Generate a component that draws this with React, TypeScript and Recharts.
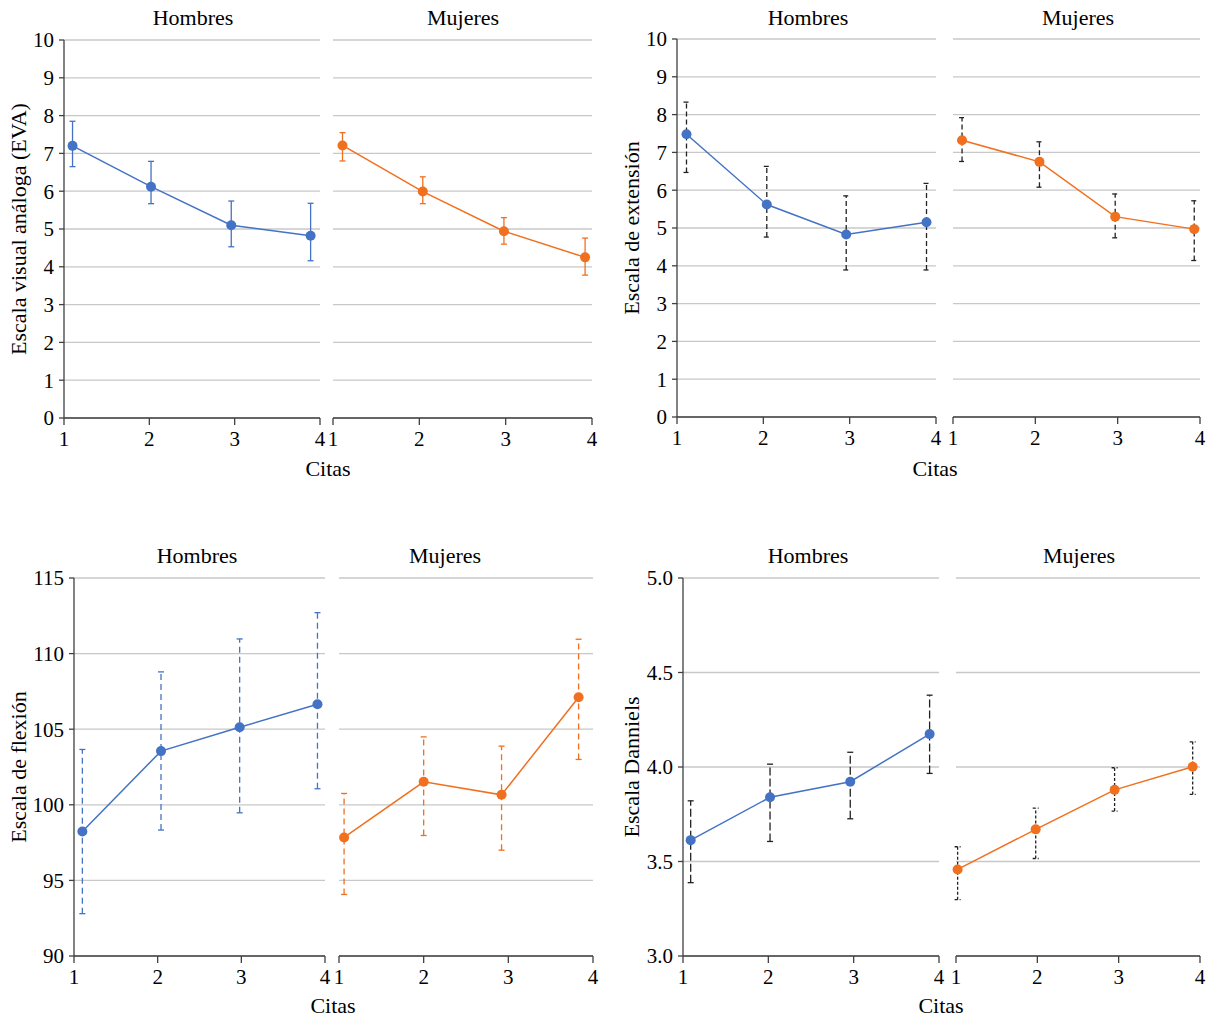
import { CartesianGrid, ErrorBar, Line, LineChart, XAxis, YAxis } from "recharts";

const FONT = '"Liberation Serif", "Times New Roman", serif';
const BLUE = "#4472C4";
const ORANGE = "#F0701F";
const BLACK = "#222222";
const GRID = "#C8C8C8";
const AXIS = "#404040";

const citaTicks = [1, 2, 3, 4];

// Escala visual análoga (EVA)
const evaTicks = [0, 1, 2, 3, 4, 5, 6, 7, 8, 9, 10];
const evaHombresX = [1.1, 2.02, 2.96, 3.89];
const evaHombres = [7.2, 6.12, 5.1, 4.82];
const evaHombresHi = [7.85, 6.79, 5.74, 5.68];
const evaHombresLo = [6.65, 5.67, 4.53, 4.16];
const evaMujeresX = [1.11, 2.04, 2.98, 3.92];
const evaMujeres = [7.21, 5.99, 4.94, 4.25];
const evaMujeresHi = [7.55, 6.38, 5.3, 4.76];
const evaMujeresLo = [6.8, 5.67, 4.6, 3.78];

// Escala de extensión
const extTicks = [0, 1, 2, 3, 4, 5, 6, 7, 8, 9, 10];
const extHombresX = [1.11, 2.04, 2.96, 3.89];
const extHombres = [7.48, 5.62, 4.83, 5.15];
const extHombresHi = [8.33, 6.63, 5.85, 6.18];
const extHombresLo = [6.47, 4.76, 3.89, 3.89];
const extMujeresX = [1.11, 2.05, 2.97, 3.93];
const extMujeres = [7.32, 6.75, 5.3, 4.97];
const extMujeresHi = [7.92, 7.28, 5.9, 5.72];
const extMujeresLo = [6.76, 6.08, 4.74, 4.14];

// Escala de flexión
const flexTicks = [90, 95, 100, 105, 110, 115];
const flexHombresX = [1.1, 2.04, 2.98, 3.91];
const flexHombres = [98.24, 103.55, 105.13, 106.65];
const flexHombresHi = [103.66, 108.79, 110.97, 112.71];
const flexHombresLo = [92.8, 98.33, 99.47, 101.06];
const flexMujeresX = [1.06, 2.0, 2.92, 3.83];
const flexMujeres = [97.84, 101.52, 100.66, 107.11];
const flexMujeresHi = [100.75, 104.49, 103.88, 110.95];
const flexMujeresLo = [94.07, 97.97, 97.0, 103.0];

// Escala Danniels
const danTicks = [3.0, 3.5, 4.0, 4.5, 5.0];
const danHombresX = [1.09, 2.02, 2.96, 3.89];
const danHombres = [3.613, 3.84, 3.922, 4.174];
const danHombresHi = [3.821, 4.015, 4.078, 4.38];
const danHombresLo = [3.388, 3.606, 3.726, 3.966];
const danMujeresX = [1.02, 1.98, 2.95, 3.91];
const danMujeres = [3.458, 3.67, 3.879, 4.001];
const danMujeresHi = [3.578, 3.782, 3.996, 4.133];
const danMujeresLo = [3.298, 3.516, 3.767, 3.855];

type Row = { x: number; y: number; err: [number, number] };

function rows(xs: number[], ys: number[], hi: number[], lo: number[]): Row[] {
  return xs.map((x, i) => ({ x, y: ys[i], err: [ys[i] - lo[i], hi[i] - ys[i]] }));
}

type ErrStyle = { color: string; dash?: string };

type FacetProps = {
  left: number;
  top: number;
  plotW: number;
  plotH: number;
  showY: boolean;
  domain: [number, number];
  ticks: number[];
  fmt?: (v: number) => string;
  data: Row[];
  color: string;
  err: ErrStyle;
};

const Y_W = 60;
const PAD = 14;
const X_H = 44;
const TICK_FS = 21;
const tickTextStyle = { fontFamily: FONT, fontSize: TICK_FS, fill: "#000" };

function XTick(props: any) {
  const { x, y, payload } = props;
  return (
    <text x={x} y={y} dy="0.72em" textAnchor="middle" style={tickTextStyle}>
      {payload.value}
    </text>
  );
}

function makeYTick(fmt?: (v: number) => string) {
  return function YTick(props: any) {
    const { x, y, payload } = props;
    return (
      <text x={x} y={y} dy="0.35em" textAnchor="end" style={tickTextStyle}>
        {fmt ? fmt(payload.value) : payload.value}
      </text>
    );
  };
}

function Facet({ left, top, plotW, plotH, showY, domain, ticks, fmt, data, color, err }: FacetProps) {
  const padL = showY ? Y_W : PAD;
  return (
    <div style={{ position: "absolute", left: left - padL, top: top - PAD }}>
      <LineChart
        width={padL + plotW + PAD}
        height={PAD + plotH + X_H}
        data={data}
        margin={{ top: PAD, right: PAD, bottom: 0, left: showY ? 0 : PAD }}
      >
        <CartesianGrid vertical={false} stroke={GRID} strokeWidth={1.3} />
        <XAxis
          dataKey="x"
          type="number"
          domain={[1, 4]}
          ticks={citaTicks}
          interval={0}
          height={X_H}
          tickSize={7}
          tickMargin={6}
          axisLine={{ stroke: AXIS, strokeWidth: 1.3 }}
          tickLine={{ stroke: AXIS, strokeWidth: 1.3 }}
          tick={<XTick />}
        />
        <YAxis
          type="number"
          domain={domain}
          ticks={ticks}
          interval={0}
          hide={!showY}
          width={Y_W}
          tickSize={5}
          tickMargin={5}
          axisLine={{ stroke: AXIS, strokeWidth: 1.3 }}
          tickLine={{ stroke: AXIS, strokeWidth: 1.3 }}
          tick={makeYTick(fmt)}
        />
        <Line
          dataKey="y"
          stroke={color}
          strokeWidth={1.5}
          dot={{ r: 5, fill: color, stroke: color, strokeWidth: 0 }}
          activeDot={false}
          isAnimationActive={false}
        >
          <ErrorBar
            dataKey="err"
            direction="y"
            width={3}
            stroke={err.color}
            strokeWidth={1.3}
            strokeDasharray={err.dash}
            isAnimationActive={false}
          />
        </Line>
      </LineChart>
    </div>
  );
}

type Panel = {
  yLabel: string;
  yLabelX: number;
  yLabelY: number;
  top: number;
  domain: [number, number];
  ticks: number[];
  fmt?: (v: number) => string;
  hLeft: number;
  hW: number;
  mLeft: number;
  mW: number;
  hTitleX: number;
  mTitleX: number;
  titleY: number;
  citasX: number;
  citasY: number;
  hombres: Row[];
  mujeres: Row[];
  hErr: ErrStyle;
  mErr: ErrStyle;
};

const PLOT_H = 378;

const panels: Panel[] = [
  {
    yLabel: "Escala visual análoga (EVA)",
    yLabelX: 19,
    yLabelY: 229,
    top: 40,
    domain: [0, 10],
    ticks: evaTicks,
    hLeft: 64,
    hW: 256,
    mLeft: 333,
    mW: 259,
    hTitleX: 193,
    mTitleX: 463,
    titleY: 18,
    citasX: 328,
    citasY: 469,
    hombres: rows(evaHombresX, evaHombres, evaHombresHi, evaHombresLo),
    mujeres: rows(evaMujeresX, evaMujeres, evaMujeresHi, evaMujeresLo),
    hErr: { color: BLUE },
    mErr: { color: ORANGE },
  },
  {
    yLabel: "Escala de extensión",
    yLabelX: 632,
    yLabelY: 228,
    top: 39,
    domain: [0, 10],
    ticks: extTicks,
    hLeft: 677,
    hW: 259,
    mLeft: 953,
    mW: 247,
    hTitleX: 808,
    mTitleX: 1078,
    titleY: 18,
    citasX: 935,
    citasY: 469,
    hombres: rows(extHombresX, extHombres, extHombresHi, extHombresLo),
    mujeres: rows(extMujeresX, extMujeres, extMujeresHi, extMujeresLo),
    hErr: { color: BLACK, dash: "5 3" },
    mErr: { color: BLACK, dash: "5 3" },
  },
  {
    yLabel: "Escala de flexión",
    yLabelX: 19,
    yLabelY: 767,
    top: 578,
    domain: [90, 115],
    ticks: flexTicks,
    hLeft: 74,
    hW: 251,
    mLeft: 339,
    mW: 254,
    hTitleX: 197,
    mTitleX: 445,
    titleY: 556,
    citasX: 333,
    citasY: 1006,
    hombres: rows(flexHombresX, flexHombres, flexHombresHi, flexHombresLo),
    mujeres: rows(flexMujeresX, flexMujeres, flexMujeresHi, flexMujeresLo),
    hErr: { color: BLUE, dash: "6 4" },
    mErr: { color: ORANGE, dash: "6 4" },
  },
  {
    yLabel: "Escala Danniels",
    yLabelX: 632,
    yLabelY: 767,
    top: 578,
    domain: [3, 5],
    ticks: danTicks,
    fmt: (v: number) => v.toFixed(1),
    hLeft: 683,
    hW: 256,
    mLeft: 956,
    mW: 244,
    hTitleX: 808,
    mTitleX: 1079,
    titleY: 556,
    citasX: 941,
    citasY: 1006,
    hombres: rows(danHombresX, danHombres, danHombresHi, danHombresLo),
    mujeres: rows(danMujeresX, danMujeres, danMujeresHi, danMujeresLo),
    hErr: { color: BLACK, dash: "8 3" },
    mErr: { color: BLACK, dash: "3 2" },
  },
];

const textStyle = {
  position: "absolute" as const,
  fontFamily: FONT,
  fontSize: 22,
  color: "#000",
  whiteSpace: "nowrap" as const,
  lineHeight: "24px",
};

function Centered({ x, y, children, rotate }: { x: number; y: number; children: string; rotate?: boolean }) {
  return (
    <div
      style={{
        ...textStyle,
        left: x,
        top: y - 12,
        transform: rotate ? "translateX(-50%) rotate(-90deg)" : "translateX(-50%)",
        transformOrigin: "50% 50%",
      }}
    >
      {children}
    </div>
  );
}

export default function App() {
  return (
    <div
      style={{
        position: "absolute",
        left: 0,
        top: 0,
        width: 1208,
        height: 1024,
        background: "#fff",
        fontFamily: FONT,
      }}
    >
      {panels.map((p) => (
        <div key={p.yLabel}>
          <Facet
            left={p.hLeft}
            top={p.top}
            plotW={p.hW}
            plotH={PLOT_H}
            showY
            domain={p.domain}
            ticks={p.ticks}
            fmt={p.fmt}
            data={p.hombres}
            color={BLUE}
            err={p.hErr}
          />
          <Facet
            left={p.mLeft}
            top={p.top}
            plotW={p.mW}
            plotH={PLOT_H}
            showY={false}
            domain={p.domain}
            ticks={p.ticks}
            data={p.mujeres}
            color={ORANGE}
            err={p.mErr}
          />
          <Centered x={p.hTitleX} y={p.titleY}>Hombres</Centered>
          <Centered x={p.mTitleX} y={p.titleY}>Mujeres</Centered>
          <Centered x={p.citasX} y={p.citasY}>Citas</Centered>
          <Centered x={p.yLabelX} y={p.yLabelY} rotate>
            {p.yLabel}
          </Centered>
        </div>
      ))}
    </div>
  );
}
